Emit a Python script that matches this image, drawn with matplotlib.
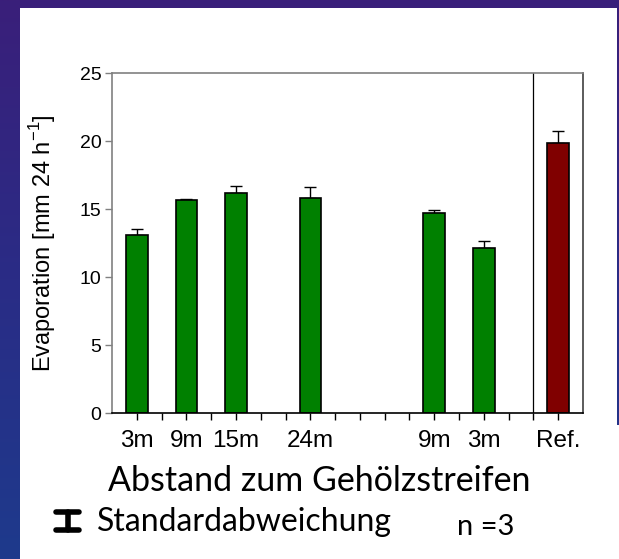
import matplotlib.pyplot as plt
import numpy as np
from matplotlib.colors import LinearSegmentedColormap
from matplotlib.patches import Rectangle
from matplotlib.lines import Line2D

# Evaporation per site (mm per 24 h), mean and standard deviation, n = 3
labels = ['3m', '9m', '15m', '24m', '9m', '3m', 'Ref.']
positions = [1, 3, 5, 8, 13, 15, 18]
evaporation = [13.07, 15.68, 16.18, 15.81, 14.68, 12.13, 19.83]
std_dev = [0.44, 0.08, 0.49, 0.81, 0.27, 0.49, 0.93]
bar_colors = ['#008000'] * 6 + ['#800000']

fig = plt.figure(figsize=(6.19, 5.59), dpi=100)
W, H = 619, 559

# slide background: indigo at the top fading to blue at the bottom
bg = fig.add_axes([0, 0, 1, 1], zorder=-10)
cmap = LinearSegmentedColormap.from_list('slide', ['#3a1f7a', '#2a2c86', '#1e3a8c'])
grad = np.linspace(0, 1, 256).reshape(-1, 1)
bg.imshow(grad, aspect='auto', cmap=cmap, extent=[0, 1, 0, 1], origin='upper')
bg.set_xlim(0, 1)
bg.set_ylim(0, 1)
bg.axis('off')

# white content panel
bg.add_patch(Rectangle((20 / W, 0), 597 / W, 1 - 8 / H, color='white', lw=0))
bg.add_patch(Rectangle((617 / W, 0), 2 / W, 1 - 425 / H, color='white', lw=0))

ax = fig.add_axes([112 / W, 1 - 413 / H, (583 - 112) / W, (413 - 73) / H])
ax.bar(positions, evaporation, width=0.87, color=bar_colors,
       edgecolor='black', linewidth=1.2, zorder=2)
ax.errorbar(positions, evaporation, yerr=[np.zeros(len(std_dev)), std_dev],
            fmt='none', ecolor='black', elinewidth=1, capsize=4, capthick=1, zorder=1)

# separator between the strip sites and the reference plot
ax.axvline(17, color='black', linewidth=0.9)

ax.set_xlim(0, 19)
ax.set_ylim(0, 25)
ax.set_yticks([0, 5, 10, 15, 20, 25])
ax.set_xticks(range(1, 19), minor=True)
ax.set_xticks(positions)
ax.set_xticklabels(labels)
ax.tick_params(axis='both', which='both', direction='out', length=5, width=1,
               colors='black')
ax.tick_params(axis='y', colors='#808080', labelcolor='black', labelsize=14, pad=2.5)
ax.tick_params(axis='x', labelsize=17.5, pad=7)
for lbl in ax.get_xticklabels() + ax.get_yticklabels():
    lbl.set_family('Liberation Sans')

ax.spines['left'].set_color('#808080')
ax.spines['top'].set_color('#808080')
ax.spines['right'].set_color('#404040')
ax.spines['bottom'].set_color('black')
for s in ax.spines.values():
    s.set_linewidth(1.2)

ax.set_ylabel('Evaporation [mm 24 h$^{\\mathregular{-1}}$]', fontsize=17,
              family='Liberation Sans')
ax.yaxis.set_label_coords(-0.115, 0.5)

fig.text(319 / W, 1 - 481 / H, 'Abstand zum Gehölzstreifen', fontsize=24.5,
         family='Lato', ha='center', va='center', color='black')
fig.text(97 / W, 1 - 522 / H, 'Standardabweichung', fontsize=23,
         family='Lato', ha='left', va='center', color='black')
fig.text(457 / W, 1 - 527 / H, 'n =3', fontsize=21,
         family='Lato', ha='left', va='center', color='black')

# error bar symbol next to the legend text
x0, x1, xm = 56 / W, 79 / W, 67.5 / W
y0, y1 = 1 - 512 / H, 1 - 530 / H
for seg in [([x0, x1], [y0, y0]), ([x0, x1], [y1, y1]), ([xm, xm], [y0, y1])]:
    fig.add_artist(Line2D(seg[0], seg[1], color='black', linewidth=4,
                          solid_capstyle='round'))

fig.savefig('out.png', dpi=100)
